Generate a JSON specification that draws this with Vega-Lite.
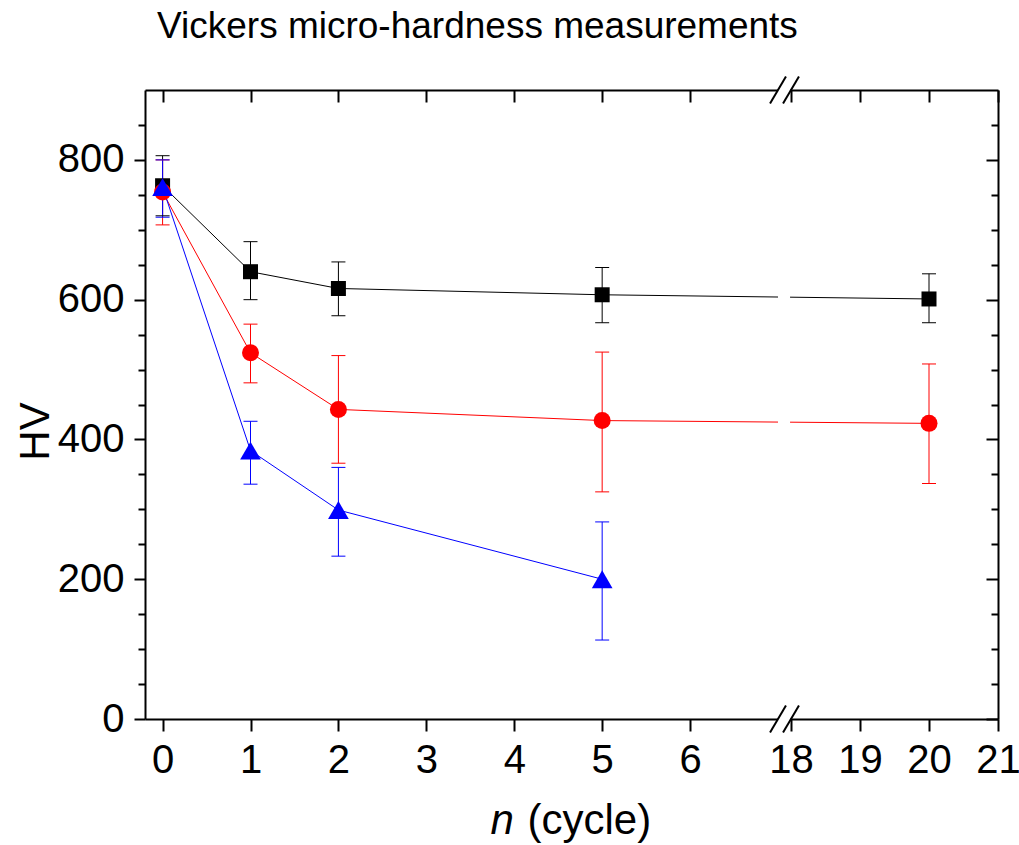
{
  "$schema": "https://vega.github.io/schema/vega-lite/v6.json",
  "width": 853,
  "height": 629,
  "autosize": "none",
  "padding": {"left": 145, "top": 90, "right": 21, "bottom": 126},
  "background": "white",
  "title": {
    "text": "Vickers micro-hardness measurements",
    "anchor": "start",
    "frame": "group",
    "dx": 12,
    "dy": 40,
    "offset": 38,
    "baseline": "alphabetic",
    "font": "Liberation Sans",
    "fontSize": 37,
    "fontWeight": "normal",
    "color": "black"
  },
  "config": {
    "view": {"stroke": null},
    "axis": {
      "grid": false,
      "domainColor": "black",
      "domainWidth": 2,
      "tickColor": "black",
      "tickWidth": 2,
      "labelColor": "black",
      "labelFont": "Liberation Sans",
      "labelFontSize": 40,
      "titleFont": "Liberation Sans",
      "titleFontSize": 42,
      "titleFontWeight": "normal",
      "titleColor": "black",
      "labelFlush": false,
      "labelOverlap": false,
      "labelBound": false
    }
  },
  "data": {
    "values": [
      {"series": "Series 1", "n": 0, "hv": 763, "lo": 720, "hi": 806},
      {"series": "Series 1", "n": 1, "hv": 640, "lo": 600, "hi": 683},
      {"series": "Series 1", "n": 2, "hv": 616, "lo": 577, "hi": 654},
      {"series": "Series 1", "n": 5, "hv": 607, "lo": 567, "hi": 646},
      {"series": "Series 1", "n": 20, "hv": 601, "lo": 567, "hi": 637},
      {"series": "Series 2", "n": 0, "hv": 754, "lo": 707, "hi": 800},
      {"series": "Series 2", "n": 1, "hv": 524, "lo": 481, "hi": 565},
      {"series": "Series 2", "n": 2, "hv": 443, "lo": 366, "hi": 520},
      {"series": "Series 2", "n": 5, "hv": 427, "lo": 325, "hi": 525},
      {"series": "Series 2", "n": 20, "hv": 423, "lo": 337, "hi": 508},
      {"series": "Series 3", "n": 0, "hv": 761, "lo": 718, "hi": 800},
      {"series": "Series 3", "n": 1, "hv": 384, "lo": 336, "hi": 426},
      {"series": "Series 3", "n": 2, "hv": 299, "lo": 233, "hi": 360},
      {"series": "Series 3", "n": 5, "hv": 200, "lo": 113, "hi": 282}
    ]
  },
  "layer": [
    {
      "mark": {"type": "line", "strokeWidth": 1},
      "encoding": {
        "x": {
          "field": "n", "type": "quantitative",
          "scale": {"domain": [-0.2, 7, 18, 21], "range": [0, 633, 646, 853], "nice": false, "zero": false},
          "axis": {
            "orient": "bottom",
            "values": [0, 1, 2, 3, 4, 5, 6, 18, 19, 20, 21],
            "format": "d",
            "tickSize": 12,
            "labelPadding": 41,
            "labelBaseline": "alphabetic",
            "title": "(cycle)",
            "titleAlign": "left",
            "titleBaseline": "alphabetic",
            "titleX": 382,
            "titleY": 114
          }
        },
        "y": {
          "field": "hv", "type": "quantitative",
          "scale": {"domain": [0, 900], "nice": false, "zero": false},
          "axis": {
            "orient": "left",
            "values": [0, 200, 400, 600, 800],
            "format": "d",
            "tickSize": 11,
            "labelPadding": 10,
            "labelBaseline": "middle",
            "title": "HV",
            "titleAngle": 270,
            "titleAlign": "center",
            "titleBaseline": "alphabetic",
            "titleX": -97,
            "titleY": 341
          }
        },
        "color": {"field": "series", "type": "nominal", "scale": {"domain": ["Series 1", "Series 2", "Series 3"], "range": ["#000000", "#ff0000", "#0000ff"]}, "legend": null}
      }
    },
    {
      "mark": {"type": "rule", "strokeWidth": 1},
      "encoding": {
        "x": {
          "field": "n", "type": "quantitative",
          "axis": {"orient": "top", "values": [0, 1, 2, 3, 4, 5, 6, 18, 19, 20, 21], "tickSize": -12, "labels": false, "title": null, "domain": true}
        },
        "y": {
          "field": "lo", "type": "quantitative",
          "axis": {"orient": "left", "values": [50, 100, 150, 250, 300, 350, 450, 500, 550, 650, 700, 750, 850], "tickSize": 7, "labels": false, "domain": false, "title": null}
        },
        "y2": {"field": "hi"},
        "color": {"field": "series", "type": "nominal", "legend": null}
      }
    },
    {
      "mark": {"type": "tick", "orient": "horizontal", "size": 14, "thickness": 1, "opacity": 1},
      "encoding": {
        "x": {
          "field": "n", "type": "quantitative",
          "axis": {"orient": "bottom", "title": "n", "titleFontStyle": "italic", "titleAlign": "left", "titleBaseline": "alphabetic", "titleX": 345, "titleY": 114, "labels": false, "ticks": false, "domain": false}
        },
        "y": {
          "field": "lo", "type": "quantitative",
          "axis": {"orient": "right", "values": [0, 200, 400, 600, 800], "tickSize": -12, "labels": false, "title": null, "domain": true}
        },
        "color": {"field": "series", "type": "nominal", "legend": null}
      }
    },
    {
      "mark": {"type": "tick", "orient": "horizontal", "size": 14, "thickness": 1, "opacity": 1},
      "encoding": {
        "x": {"field": "n", "type": "quantitative", "axis": null},
        "y": {
          "field": "hi", "type": "quantitative",
          "axis": {"orient": "right", "values": [50, 100, 150, 250, 300, 350, 450, 500, 550, 650, 700, 750, 850], "tickSize": -7, "labels": false, "domain": false, "title": null}
        },
        "color": {"field": "series", "type": "nominal", "legend": null}
      }
    },
    {
      "transform": [{"filter": "datum.series === 'Series 1'"}],
      "mark": {"type": "point", "shape": "square", "size": 225, "filled": true, "opacity": 1, "strokeWidth": 0, "color": "#000000"},
      "encoding": {
        "x": {"field": "n", "type": "quantitative", "axis": null},
        "y": {"field": "hv", "type": "quantitative", "axis": null}
      }
    },
    {
      "transform": [{"filter": "datum.series === 'Series 2'"}],
      "mark": {"type": "point", "shape": "circle", "size": 289, "filled": true, "opacity": 1, "strokeWidth": 0, "color": "#ff0000"},
      "encoding": {
        "x": {"field": "n", "type": "quantitative", "axis": null},
        "y": {"field": "hv", "type": "quantitative", "axis": null}
      }
    },
    {
      "transform": [{"filter": "datum.series === 'Series 3'"}],
      "mark": {"type": "point", "shape": "triangle-up", "size": 428, "filled": true, "opacity": 1, "strokeWidth": 0, "color": "#0000ff"},
      "encoding": {
        "x": {"field": "n", "type": "quantitative", "axis": null},
        "y": {"field": "hv", "type": "quantitative", "axis": null}
      }
    },
    {
      "data": {"values": [{}]},
      "mark": {"type": "rect", "color": "white", "clip": false},
      "encoding": {
        "x": {"datum": 7, "type": "quantitative", "axis": null},
        "x2": {"datum": 17.2},
        "y": {"datum": -6, "type": "quantitative", "axis": null},
        "y2": {"datum": 906}
      }
    },
    {
      "data": {"values": [{"edge": 7}, {"edge": 18}]},
      "mark": {"type": "point", "shape": "M-0.59,1L0.59,-1", "size": 729, "filled": false, "color": "black", "stroke": "black", "strokeWidth": 2, "opacity": 1, "clip": false},
      "encoding": {
        "x": {"field": "edge", "type": "quantitative", "axis": null},
        "y": {"datum": 0, "type": "quantitative", "axis": null}
      }
    },
    {
      "data": {"values": [{"edge": 7}, {"edge": 18}]},
      "mark": {"type": "point", "shape": "M-0.59,1L0.59,-1", "size": 729, "filled": false, "color": "black", "stroke": "black", "strokeWidth": 2, "opacity": 1, "clip": false},
      "encoding": {
        "x": {"field": "edge", "type": "quantitative", "axis": null},
        "y": {"datum": 900, "type": "quantitative", "axis": null}
      }
    }
  ],
  "resolve": {"axis": {"x": "independent", "y": "independent"}}
}
